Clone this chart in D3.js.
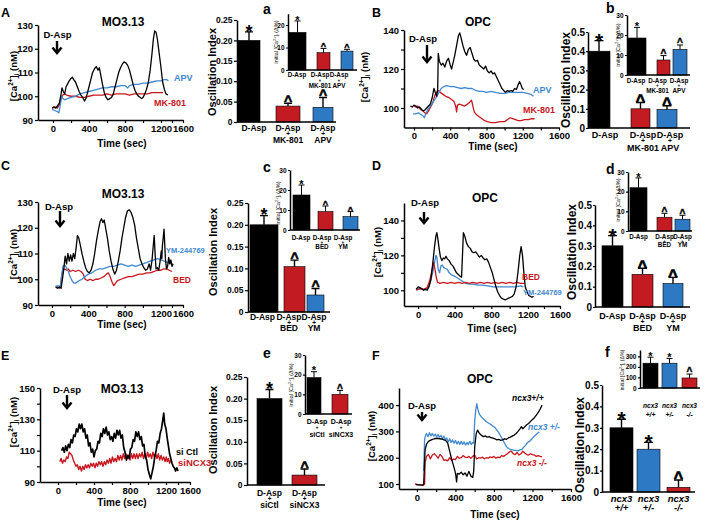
<!DOCTYPE html>
<html><head><meta charset="utf-8">
<script src="https://cdn.jsdelivr.net/npm/d3@7/dist/d3.min.js"></script>
<style>
html,body{margin:0;padding:0;background:#fff;}
svg{display:block;font-family:"Liberation Sans",Arial,Helvetica,sans-serif;font-weight:bold;}
</style></head>
<body><svg id="fig" width="708" height="523"></svg>
<script>
// ================= DATA =================
const timeTicks = [0,200,400,600,800,1000,1200,1400,1600];
const timeLabels = [0,400,800,1200,1600];

// ---- Panel A (MO3.13), [Ca2+]i nM vs time s
const A_DAsp = [[-10,95],[10,95.5],[30,95],[50,96],[70,97],[90,101],[100,103.5],[115,102],[130,101],[145,104],[160,105],[180,106.5],[200,107.5],[215,108],[230,107],[250,106],[270,104],[290,102],[310,100.5],[330,99.5],[350,98],[365,99],[380,101],[400,104],[420,107],[440,110],[460,111.5],[480,112.5],[500,111],[515,112],[530,109],[550,105],[570,101.5],[590,99.5],[610,98.5],[630,99],[650,99.5],[670,101],[690,104],[710,107],[730,110],[750,112],[770,113.5],[790,114.5],[810,114],[830,113],[850,111],[870,108],[890,105],[910,102.5],[930,101],[950,100],[970,99.5],[985,99],[1000,99.5],[1020,101],[1040,103],[1060,106],[1080,111],[1100,118],[1115,124],[1130,127.5],[1145,127],[1160,124],[1180,118],[1200,112],[1230,106],[1260,103],[1290,101],[1327,100.5]];
const A_APV = [[-10,94.5],[20,94],[50,93.5],[65,93],[80,96],[95,100],[110,99],[130,98.5],[160,99],[200,99.5],[250,100],[300,101],[350,101.5],[400,102],[450,102.5],[500,103],[550,103.5],[600,103.5],[650,104],[700,104],[750,104.5],[800,104.5],[830,103.5],[850,104.5],[900,105],[950,105],[1000,105.5],[1050,105.5],[1100,106],[1150,106.5],[1200,106.5],[1250,107],[1300,107],[1335,106.5]];
const A_MK801 = [[-10,95],[20,95.5],[50,95],[70,96.5],[90,99],[110,100.5],[130,101],[150,100.5],[200,100],[250,100],[300,99.5],[350,99.5],[400,100],[450,100.5],[500,100.5],[550,100.5],[600,101],[650,100.5],[700,101],[750,101],[800,101],[850,100.5],[900,101],[950,101],[1000,101],[1050,101],[1100,101.5],[1150,101.5],[1200,101.5],[1236,101.5]];

// ---- Panel B (OPC)
const B_DAsp = [[-40,101],[-20,100.5],[0,101.5],[20,101],[40,100],[60,100.5],[80,99.5],[100,98.5],[120,99],[140,100],[160,101],[180,102],[200,105],[220,110],[235,108],[250,106],[262,110],[268,128],[280,124],[300,122],[320,123],[340,121],[360,124],[380,125.5],[400,122],[415,120],[430,123],[450,127],[470,132],[490,137],[505,138.5],[520,136],[540,132],[560,129],[580,127],[600,130],[620,131],[640,128],[660,125],[680,124],[700,124.5],[720,122],[745,121],[770,120],[790,121.5],[810,119],[830,118],[850,119],[870,117.5],[890,118],[910,116],[930,114],[950,112],[970,110],[990,109],[1010,108],[1030,109],[1050,108.5],[1070,109],[1090,108.5],[1110,110],[1130,109.5],[1150,112],[1165,113.5],[1180,112],[1195,110],[1210,109.5]];
const B_APV = [[-10,97],[20,97],[50,97.5],[80,96.5],[100,96],[115,95],[125,96.5],[150,99],[180,101],[210,103],[240,105],[270,107.5],[300,110],[330,111],[360,111.5],[400,111],[440,111],[480,110.5],[520,110],[560,110.5],[600,110],[640,110],[680,109],[720,108.5],[760,108.5],[800,108],[850,108.5],[900,108],[950,107.5],[1000,107.5],[1050,108],[1100,108],[1150,108],[1200,108],[1250,107.5],[1290,107],[1320,106]];
const B_MK801 = [[0,101],[20,100.5],[40,101],[60,100],[80,99],[100,98.5],[120,97.5],[140,97],[160,98.5],[190,101],[210,103],[230,106.5],[250,108],[270,109],[290,108],[320,107],[350,106],[380,105.5],[410,104.5],[440,103.5],[460,101],[470,98],[480,101.5],[500,102],[530,101.5],[560,101],[590,102],[615,103],[635,104],[650,101],[665,98],[690,96.5],[720,95.5],[750,94.5],[780,93.5],[810,93],[850,92.5],[900,92.5],[950,93],[1000,93],[1030,94],[1060,95],[1090,94.5],[1120,94],[1150,93.5],[1180,93.5],[1220,94],[1260,94],[1300,94.5],[1330,94.5]];

// ---- Panel C (MO3.13)
const C_DAsp = [[40,97],[60,96.5],[80,97],[100,96.5],[115,100],[130,104],[145,109],[160,106],[175,110],[190,107],[205,109.5],[220,107],[235,110],[250,108],[265,112],[280,117],[295,116],[310,113.5],[330,110],[350,107],[370,104.5],[390,103],[410,102.5],[430,103.5],[450,106],[470,110],[490,115],[510,119],[530,122.5],[545,123.5],[560,122],[575,123],[590,120],[610,116],[630,111],[650,107],[670,104],[690,102],[710,103.5],[730,107],[750,111],[770,116],[790,120],[810,124],[830,126.5],[850,127],[870,126],[890,124],[910,121],[930,116],[950,112],[970,108],[990,106],[1010,104.5],[1030,103.5],[1050,104],[1070,106],[1085,103.5],[1100,107],[1115,113],[1125,117],[1135,110],[1145,104],[1160,104.5],[1175,103.5],[1190,107],[1205,111],[1215,108],[1225,113],[1240,116],[1255,119.5],[1265,115],[1280,108],[1300,104],[1320,105],[1340,108.5],[1360,106],[1380,107.5],[1400,105],[1420,106]];
const C_YM = [[40,97],[70,97.5],[90,97],[105,101],[120,105],[140,105.5],[160,104.5],[180,103],[200,101],[220,99.5],[240,98.5],[260,98.5],[280,99],[300,99.5],[330,100],[360,101],[400,102],[440,102.5],[480,103.5],[520,104],[560,104],[600,104.5],[640,105],[680,105],[720,105.5],[760,106],[800,105.5],[840,105],[880,105.5],[920,105],[960,105.5],[1000,106],[1040,106.5],[1080,107],[1120,107.5],[1160,108],[1200,107.5],[1260,107],[1320,106.5],[1380,106],[1420,105.5]];
const C_BED = [[40,97.5],[60,97],[80,96.5],[95,97],[105,101],[120,103.5],[140,104],[160,103.5],[180,104],[200,103],[230,103.5],[260,103],[290,103.5],[320,103],[345,102],[365,100],[390,99.5],[420,100],[450,99.5],[480,100],[510,100],[540,100.5],[570,101],[600,102],[620,102.5],[640,101],[660,99],[680,97.5],[700,98.5],[720,99.5],[760,100],[800,100.5],[840,101],[880,101],[920,101.5],[960,102],[1000,102],[1040,102.5],[1080,102.5],[1120,103],[1160,103.5],[1200,103.5],[1250,104],[1300,104],[1350,103.5],[1400,103]];

// ---- Panel D (OPC)
const D_DAsp = [[-20,100.5],[0,102],[20,101.5],[40,101],[60,100],[80,100.5],[100,100],[120,102],[140,106],[160,115],[180,125],[195,131],[205,133],[215,130],[230,124],[245,119],[260,117],[275,118.5],[290,118],[305,119.5],[320,118],[340,117],[360,115],[380,114],[400,112],[420,110],[440,109],[460,108],[475,107.5],[485,120],[495,133],[510,131],[530,127],[550,125],[570,124],[590,122],[610,121.5],[630,122],[650,120.5],[670,119],[690,120],[710,118.5],[730,117.5],[750,118],[770,116],[790,113],[810,110],[830,106],[850,102],[870,99],[890,97],[910,95.5],[930,95],[950,94.5],[970,95],[990,95.5],[1010,96],[1030,96.5],[1050,98],[1070,102],[1090,110],[1110,120],[1125,125],[1140,120],[1155,110],[1170,102],[1190,99],[1210,97],[1230,96.5],[1250,96],[1270,96.5]];
const D_YM = [[-20,100.5],[20,101],[60,100.5],[100,101],[130,104],[160,110],[180,116],[195,120],[205,119],[220,112],[235,110],[250,114],[265,114.5],[280,113],[300,112.5],[320,112],[340,110],[360,109],[380,108.5],[400,108],[430,107],[460,106],[490,105],[520,104],[560,103.5],[600,103.5],[650,103],[700,103],[760,102.5],[820,102],[880,102],[940,102],[1000,102],[1060,102],[1120,102.5],[1150,102]];
const D_BED = [[-20,100],[20,101],[60,100.5],[100,101.5],[130,106],[150,111],[170,116],[185,112],[200,107],[215,104.5],[240,104],[280,104.5],[320,104],[360,104.5],[400,104],[440,104.5],[480,104],[520,104.5],[560,104],[600,104.5],[640,104],[680,104.5],[720,104],[760,104.5],[800,104],[840,104.5],[880,104],[920,104.5],[960,104],[1000,104.5],[1040,104],[1080,104.5],[1120,104],[1160,104]];

// ---- Panel E (MO3.13, siRNA)
const E_siCtl = [[40,110],[55,112],[70,109],[85,113],[100,110],[115,114],[130,112],[145,117],[160,115],[175,120],[190,119],[205,124],[220,122],[235,127],[250,124],[265,127],[280,122],[295,124],[310,118],[325,120],[340,113],[355,115],[370,109],[385,111],[400,106],[415,110],[430,111],[445,116],[460,115],[475,121],[490,119],[505,124],[520,121],[535,125],[550,120],[565,122],[580,117],[595,119],[610,116],[625,121],[640,118],[655,123],[670,120],[685,123],[700,118],[715,120],[730,112],[745,109],[760,104],[775,107],[790,105],[805,111],[820,112],[835,117],[850,116],[865,122],[880,119],[895,122],[910,117],[925,119],[940,113],[955,114],[970,106],[985,104],[1000,98],[1015,95],[1030,92],[1045,96],[1060,100],[1075,106],[1090,110],[1105,116],[1120,115],[1135,121],[1150,124],[1165,130],[1175,134],[1185,127],[1200,124],[1220,118],[1240,113],[1260,108],[1280,105],[1300,102],[1320,100],[1340,99],[1360,97],[1380,99],[1400,97]];
const E_siNCX3 = [[20,103],[35,105],[50,102],[65,104],[80,103],[95,106],[110,105],[125,109],[140,108],[155,107],[170,104],[185,102],[200,100],[215,101],[230,98],[245,100],[260,97],[275,100],[290,98],[305,101],[320,99],[335,101],[350,99],[365,102],[380,100],[395,102],[410,99],[425,102],[440,100],[455,103],[470,101],[485,103],[500,100],[515,103],[530,101],[545,104],[560,102],[575,105],[590,102],[605,106],[620,103],[635,105],[650,103],[665,107],[680,104],[695,107],[710,104],[725,108],[740,105],[755,108],[770,105],[785,107],[800,104],[815,108],[830,105],[845,108],[860,105],[875,108],[890,105],[905,108],[920,106],[935,109],[950,105],[965,108],[980,105],[995,109],[1010,106],[1025,108],[1040,105],[1055,109],[1070,106],[1085,108],[1100,105],[1115,108],[1130,104],[1145,107],[1160,104],[1175,106],[1190,103],[1205,106],[1220,103],[1240,105],[1260,102],[1280,104],[1300,103]];

// ---- Panel F (OPC, ncx3 genotypes)
const F_wt = [[-10,98],[20,97],[50,96],[70,98],[85,230],[100,252],[120,262],[150,268],[180,272],[210,274],[240,272],[270,270],[300,265],[320,255],[340,225],[360,195],[380,170],[395,150],[405,130],[412,108],[420,140],[440,138],[460,145],[480,135],[500,142],[520,130],[540,148],[560,130],[580,125],[590,150],[600,240],[615,290],[630,305],[650,292],[670,285],[690,280],[710,283],[730,278],[750,280],[770,276],[790,274],[810,272],[830,268],[850,270],[870,266],[890,268],[910,272],[930,270],[950,275],[970,278],[990,282],[1010,286],[1030,292],[1050,300],[1070,310],[1085,318],[1100,310],[1120,318],[1140,325],[1160,330],[1180,338],[1200,345],[1220,352],[1240,362],[1260,372],[1280,385],[1300,400]];
const F_het = [[70,150],[80,270],[90,285],[100,292],[115,280],[130,295],[145,283],[160,292],[175,282],[190,290],[205,280],[220,288],[235,278],[250,285],[265,272],[280,282],[295,268],[310,275],[325,260],[340,272],[355,258],[370,268],[385,255],[400,265],[415,252],[430,262],[445,250],[460,262],[475,250],[490,260],[505,248],[520,258],[535,250],[550,262],[565,250],[580,258],[590,255],[600,340],[612,385],[622,405],[635,380],[650,365],[670,355],[690,348],[710,340],[730,335],[750,330],[770,326],[790,320],[810,315],[830,305],[850,295],[870,282],[890,270],[910,255],[930,242],[950,235],[970,232],[990,230],[1010,228],[1030,228],[1050,226],[1070,230],[1090,232],[1110,240],[1130,248],[1150,258],[1170,262],[1190,270],[1210,278],[1230,285],[1250,292],[1270,298]];
const F_ko = [[-20,100],[10,98],[40,97],[65,95],[80,100],[85,180],[100,205],[120,212],[140,195],[160,210],[180,215],[200,208],[220,198],[240,212],[260,205],[280,190],[300,192],[320,188],[340,200],[360,190],[380,195],[400,193],[420,205],[440,198],[460,200],[480,208],[500,202],[520,200],[540,205],[560,198],[580,205],[600,210],[620,195],[640,200],[660,198],[680,202],[700,196],[720,200],[740,198],[760,203],[780,200],[800,205],[820,198],[840,202],[860,200],[880,208],[900,205],[920,210],[940,215],[960,222],[980,225],[1000,215],[1020,212],[1040,220],[1060,210],[1080,215],[1100,225],[1120,218],[1140,212],[1160,210],[1180,215],[1200,212],[1220,210],[1240,205],[1260,208],[1280,205],[1300,203]];

// ---- Bar charts: oscillation index (main) and initial [Ca2+]i (inset, Δ%)
const oscTicks25 = [0,0.05,0.10,0.15,0.20,0.25];
const oscTickLabels25 = ["0","0.05","0.10","0.15","0.20","0.25"];
const oscTicks5 = [0,0.1,0.2,0.3,0.4,0.5];
const oscTickLabels5 = ["0","0.1","0.2","0.3","0.4","0.5"];
const initTicks = [0,10,20,30];
const initTicksF = [0,100,200,300];

const catsNMDA = [["D-Asp"],["D-Asp","+","MK-801"],["D-Asp","+","APV"]];
const catsNCX = [["D-Asp"],["D-Asp","+","BED"],["D-Asp","+","YM"]];
const catsSi = [["D-Asp","+","siCtl"],["D-Asp","+","siNCX3"]];
const catsGeno = [["ncx3","+/+"],["ncx3","+/-"],["ncx3","-/-"]];

const oscA = [0.20,0.039,0.036], oscA_err = [0.221,0.046,0.060], oscA_sig = ["*","^","^"];
const initA = [16.7,7.7,8.4], initA_err = [21.8,9.6,9.2], initA_sig = ["*","^","^"];
const oscB = [0.40,0.10,0.097], oscB_err = [0.455,0.133,0.116], oscB_sig = ["*","^","^"];
const initB = [18.5,7.5,12.8], initB_err = [23.8,9.7,15], initB_sig = ["*","^","^"];
const oscC = [0.20,0.104,0.039], oscC_err = [0.221,0.119,0.054], oscC_sig = ["*","^","^"];
const initC = [17.5,9.2,6.7], initC_err = [22.5,12,9.2], initC_sig = ["*","^","^"];
const oscD = [0.30,0.16,0.115], oscD_err = [0.35,0.19,0.145], oscD_sig = ["*","^","^"];
const initD = [22,7,6], initD_err = [27,9,8], initD_sig = ["*","^","^"];
const oscE = [0.20,0.023], oscE_err = [0.221,0.037], oscE_sig = ["*","^"];
const initE = [18.5,10], initE_err = [21.5,12], initE_sig = ["*","^"];
const oscF = [0.30,0.20,0.022], oscF_err = [0.34,0.232,0.056], oscF_sig = ["*","*","^"];
const initF = [235,235,95], initF_err = [292,280,132], initF_sig = ["*","*","^"];

// ================= STYLE =================
const BLACK = "#000", RED = "#c8161d", BLUE = "#4088cf", BAR_RED = "#c21b21", BAR_BLUE = "#2d79c3";
const svg = d3.select("#fig");

function styleAxis(sel, fs) {
  sel.attr("font-family", null).attr("font-size", fs).attr("font-weight", "bold");
  sel.selectAll("path.domain").attr("stroke", "#000").attr("stroke-width", 1.5);
  sel.selectAll(".tick line").attr("stroke", "#000").attr("stroke-width", 1.2);
  sel.selectAll(".tick text").attr("fill", "#000");
}
function text(g, x, y, s, o = {}) {
  return g.append("text").attr("x", x).attr("y", y).attr("text-anchor", o.anchor || "start")
    .attr("font-size", o.size || 10).attr("fill", o.color || "#000")
    .attr("font-style", o.italic ? "italic" : null).attr("font-weight", o.weight || "bold").text(s);
}
function caLabel(g, x, y, size, inset) {
  const t = g.append("text").attr("transform", `translate(${x},${y}) rotate(-90)`)
    .attr("text-anchor", "middle").attr("font-size", size).attr("font-weight", inset ? "normal" : "bold");
  const s = size * 0.68;
  t.append("tspan").text(inset ? "initial [Ca" : "[Ca");
  t.append("tspan").attr("font-size", s).attr("dy", -size * 0.4).text("2+");
  t.append("tspan").attr("dy", size * 0.4).text("]");
  t.append("tspan").attr("font-size", s).attr("dy", size * 0.22).text("i");
  t.append("tspan").attr("dy", -size * 0.22).text(inset ? " (\u0394%)" : " (nM)");
}
function arrow(g, x, y0, y1) {
  g.append("path").attr("d", `M${x},${y0}V${y1 - 1}`).attr("stroke", "#000").attr("stroke-width", 2.4).attr("fill", "none");
  g.append("path").attr("d", `M${x - 4.5},${y1 - 5.5}L${x},${y1}L${x + 4.5},${y1 - 5.5}`)
    .attr("stroke", "#000").attr("stroke-width", 2.4).attr("fill", "none").attr("stroke-linejoin", "miter");
}

function tracePanel(o) {
  const g = svg.append("g");
  const x = d3.scaleLinear().domain(o.xd).range(o.xr);
  const y = d3.scaleLinear().domain(o.yd).range(o.yr);
  const line = d3.line().x(d => x(d[0])).y(d => y(d[1]));
  o.series.forEach(s => g.append("path").datum(s.data).attr("d", line).attr("fill", "none")
    .attr("stroke", s.color).attr("stroke-width", s.w || 1.3).attr("stroke-linejoin", "round"));
  const xa = g.append("g").attr("transform", `translate(0,${o.yr[0]})`)
    .call(d3.axisBottom(x).tickValues(timeTicks).tickSize(3).tickSizeOuter(0).tickPadding(2)
      .tickFormat(d => timeLabels.includes(d) ? String(d) : ""));
  styleAxis(xa, 9.5);
  const ya = g.append("g").attr("transform", `translate(${o.xr[0]},0)`)
    .call(d3.axisLeft(y).tickValues(o.yTicks).tickSize(3).tickSizeOuter(0).tickPadding(2)
      .tickFormat(d => o.yLabels.includes(d) ? String(d) : ""));
  styleAxis(ya, 9.5);
  text(g, o.title[1], o.title[2], o.title[0], { anchor: "middle", size: 12 });
  text(g, o.xlab[0], o.xlab[1], "Time (sec)", { anchor: "middle", size: 10 });
  caLabel(g, o.ylab[0], o.ylab[1], 9.5);
  text(g, o.dasp[0], o.dasp[1], "D-Asp", { anchor: "middle", size: 9.5 });
  arrow(g, o.arrow[0], o.arrow[1], o.arrow[2]);
  o.legend.forEach(l => text(g, l.x, l.y, l.t, { size: l.size || 9, color: l.c, italic: l.it }));
}

function barPanel(o) {
  const g = svg.append("g");
  const n = o.values.length;
  const y = d3.scaleLinear().domain(o.yd).range(o.yr);
  const cx = d3.scaleOrdinal().domain(d3.range(n)).range(o.centers);
  const lx = d3.scaleOrdinal().domain(d3.range(n)).range(o.labelCenters || o.centers);
  const idx = d3.range(n);
  g.selectAll("rect").data(idx).join("rect")
    .attr("x", i => cx(i) - o.widths[i] / 2).attr("width", i => o.widths[i])
    .attr("y", i => y(o.values[i])).attr("height", i => y(0) - y(o.values[i]))
    .attr("fill", i => o.colors[i]).attr("stroke", "#000").attr("stroke-width", 0.6);
  g.selectAll("path.err").data(idx).join("path").attr("class", "err")
    .attr("d", i => `M${cx(i)},${y(o.values[i])}V${y(o.errs[i])}M${cx(i) - o.cap / 2},${y(o.errs[i])}H${cx(i) + o.cap / 2}`)
    .attr("stroke", "#000").attr("stroke-width", o.errW || 1.4).attr("fill", "none");
  g.selectAll("text.sig").data(idx).join("text").attr("class", "sig")
    .attr("x", i => cx(i)).attr("text-anchor", "middle")
    .attr("font-size", i => o.sig[i] === "*" ? o.starSize : o.caretSize)
    .attr("stroke", i => o.sig[i] === "^" ? "#000" : null)
    .attr("stroke-width", i => o.sig[i] === "^" ? o.caretSize * 0.045 : null)
    .attr("y", i => {
      const fs = o.sig[i] === "*" ? o.starSize : o.caretSize;
      return y(o.errs[i]) - (o.gap || 2) + (o.sig[i] === "*" ? 0.43 : 0.33) * fs;
    })
    .text(i => o.sig[i]);
  const ya = g.append("g").attr("transform", `translate(${o.ax},0)`)
    .call(d3.axisLeft(y).tickValues(o.ticks).tickSize(o.ts || 3).tickSizeOuter(0).tickPadding(o.tp || 1.5)
      .tickFormat((d, k) => o.tickLabels ? o.tickLabels[k] : d));
  styleAxis(ya, o.tfs);
  g.append("path").attr("d", `M${o.ax},${y(0)}H${o.xEnd}`).attr("stroke", "#000").attr("stroke-width", 1.5);
  o.labels.forEach((lines, i) => lines.forEach((s, j) => {
    const row = lines.length === 2 && o.lb.length === 3 ? (j === 0 ? 0 : j + 1) : j;
    text(g, lx(i), o.lb[row], s, { anchor: "middle", size: s === "+" ? o.ls * 0.75 : o.ls, italic: o.italic });
  }));
  if (o.inset) caLabel(g, o.ylab[0], o.ylab[1], o.ylab[2], true);
  else {
    g.append("text").attr("transform", `translate(${o.ylab[0]},${o.ylab[1]}) rotate(-90)`)
      .attr("text-anchor", "middle").attr("font-size", o.ylab[2]).text("Oscillation Index");
  }
}

// ================= PANELS =================
tracePanel({ xd: [-167, 0, 1200, 1600], xr: [38, 53, 161, 183], yd: [90, 130], yr: [120, 25],
  yTicks: [90, 100, 110, 120, 130], yLabels: [90, 100, 110, 120, 130],
  series: [{ data: A_MK801, color: RED }, { data: A_APV, color: BLUE }, { data: A_DAsp, color: BLACK }],
  title: ["MO3.13", 123, 26], xlab: [122, 147], ylab: [17, 76], dasp: [57.5, 38], arrow: [57, 41, 53],
  legend: [{ t: "APV", x: 174, y: 81, c: BLUE }, { t: "MK-801", x: 154, y: 106, c: RED }] });
tracePanel({ xd: [-110, 1600], xr: [404, 559], yd: [90, 140], yr: [127.5, 30],
  yTicks: [100, 110, 120, 130, 140], yLabels: [100, 120, 140],
  series: [{ data: B_MK801, color: RED }, { data: B_APV, color: BLUE }, { data: B_DAsp, color: BLACK }],
  title: ["OPC", 478, 26], xlab: [493, 150], ylab: [368, 77], dasp: [423, 42], arrow: [427, 45, 62],
  legend: [{ t: "APV", x: 533, y: 93, c: BLUE }, { t: "MK-801", x: 523, y: 113, c: RED }] });
tracePanel({ xd: [-167, 0, 1200, 1600], xr: [38, 52, 161, 183], yd: [90, 130], yr: [305, 202],
  yTicks: [90, 100, 110, 120, 130], yLabels: [90, 100, 110, 120, 130],
  series: [{ data: C_BED, color: RED }, { data: C_YM, color: BLUE }, { data: C_DAsp, color: BLACK }],
  title: ["MO3.13", 123, 198], xlab: [122, 328], ylab: [17, 254], dasp: [59, 210], arrow: [60, 211, 226],
  legend: [{ t: "YM-244769", x: 166, y: 252.5, c: BLUE, size: 7.5 }, { t: "BED", x: 173, y: 283, c: RED, size: 8.5 }] });
tracePanel({ xd: [-153, 1200, 1600], xr: [404, 528, 560], yd: [91, 150], yr: [306, 203],
  yTicks: [100, 110, 120, 130, 140], yLabels: [100, 120, 140],
  series: [{ data: D_YM, color: BLUE }, { data: D_BED, color: RED }, { data: D_DAsp, color: BLACK }],
  title: ["OPC", 485, 202], xlab: [492, 332], ylab: [381, 252], dasp: [425, 206], arrow: [424, 212, 223],
  legend: [{ t: "BED", x: 522, y: 280, c: RED, size: 8.5 }, { t: "YM-244769", x: 523, y: 295, c: BLUE, size: 7.5 }] });
tracePanel({ xd: [-200, 0, 1200, 1600], xr: [40, 58, 166, 190], yd: [90, 150], yr: [482, 388],
  yTicks: [90, 100, 110, 120, 130, 140, 150], yLabels: [90, 110, 130, 150],
  series: [{ data: E_siNCX3, color: RED, w: 1.4 }, { data: E_siCtl, color: BLACK, w: 1.7 }],
  title: ["MO3.13", 122, 393], xlab: [122, 506], ylab: [17, 422], dasp: [67, 393], arrow: [67, 395, 408],
  legend: [{ t: "si Ctl", x: 176, y: 455, c: BLACK, size: 9 }, { t: "siNCX3", x: 178, y: 466, c: RED, size: 9.5 }] });
tracePanel({ xd: [-186, 1600], xr: [399, 571], yd: [81, 465], yr: [489, 388],
  yTicks: [100, 200, 300, 400], yLabels: [100, 200, 300, 400],
  series: [{ data: F_ko, color: RED }, { data: F_het, color: BLUE }, { data: F_wt, color: BLACK }],
  title: ["OPC", 480, 383], xlab: [495, 518], ylab: [375, 436], dasp: [422, 409], arrow: [422, 412, 420],
  legend: [{ t: "ncx3+/+", x: 512, y: 401, c: BLACK, it: true, size: 8.5 }, { t: "ncx3 +/-", x: 528, y: 430, c: BLUE, it: true, size: 8.5 },
           { t: "ncx3 -/-", x: 517, y: 466, c: RED, it: true, size: 8.5 }] });

const cols3 = [BLACK, BAR_RED, BAR_BLUE];
barPanel({ yd: [0, 0.25], yr: [122, 20], ax: 237, xEnd: 336, ticks: oscTicks25, tickLabels: oscTickLabels25, tfs: 8.5,
  centers: [249, 288, 323], widths: [22, 24, 20], labelCenters: [254, 288, 323],
  values: oscA, errs: oscA_err, sig: oscA_sig, colors: cols3, cap: 8, starSize: 18, caretSize: 14,
  labels: catsNMDA, lb: [130.5, 135.5, 142.5], ls: 8.5, ylab: [216, 72, 11] });
barPanel({ yd: [0, 25], yr: [70, 13.75], ax: 288, xEnd: 357, ticks: [0, 10, 20], tfs: 6.5, inset: true, ts: 2,
  centers: [297.5, 323.5, 347], widths: [17, 13, 12], labelCenters: [297, 320, 339],
  values: initA, errs: initA_err, sig: initA_sig, colors: cols3, cap: 6, starSize: 11, caretSize: 9, errW: 1,
  labels: catsNMDA, lb: [77, 81.5, 88], ls: 6.3, ylab: [278, 42, 5.5] });
barPanel({ yd: [0, 0.5], yr: [128, 32], ax: 588, xEnd: 690, ticks: oscTicks5, tickLabels: oscTickLabels5, tfs: 10, ts: 2, tp: 1,
  centers: [599, 640.5, 667], widths: [22, 19, 20], labelCenters: [605, 643, 670],
  values: oscB, errs: oscB_err, sig: oscB_sig, colors: cols3, cap: 9, starSize: 21, caretSize: 16,
  labels: catsNMDA, lb: [137.5, 143, 151], ls: 9, ylab: [570, 80, 12] });
barPanel({ yd: [0, 30], yr: [75, 15], ax: 627, xEnd: 690, ticks: initTicks, tfs: 6.5, inset: true, ts: 2,
  centers: [637, 663.5, 680], widths: [18, 13, 14], labelCenters: [636, 657.5, 679],
  values: initB, errs: initB_err, sig: initB_sig, colors: cols3, cap: 6, starSize: 11, caretSize: 10, errW: 1,
  labels: catsNMDA, lb: [82.5, 86.5, 92.5], ls: 6.3, ylab: [620, 45, 5.5] });
barPanel({ yd: [0, 0.25], yr: [312, 203], ax: 248, xEnd: 330, ticks: oscTicks25, tickLabels: oscTickLabels25, tfs: 8.5,
  centers: [264, 294.5, 315.5], widths: [28, 21, 17], labelCenters: [262.5, 289, 314],
  values: oscC, errs: oscC_err, sig: oscC_sig, colors: cols3, cap: 8, starSize: 18, caretSize: 14,
  labels: catsNCX, lb: [319.5, 324.5, 331], ls: 8.5, ylab: [217, 252, 11] });
barPanel({ yd: [0, 30], yr: [230, 170], ax: 290, xEnd: 360, ticks: initTicks, tfs: 6.5, inset: true, ts: 2,
  centers: [301.5, 325.5, 350.5], widths: [17, 15, 15], labelCenters: [301, 322, 343],
  values: initC, errs: initC_err, sig: initC_sig, colors: cols3, cap: 6, starSize: 11, caretSize: 9, errW: 1,
  labels: catsNCX, lb: [239.5, 243.5, 248.5], ls: 6.3, ylab: [280, 203, 5.5] });
barPanel({ yd: [0, 0.5], yr: [307, 205], ax: 595, xEnd: 690, ticks: oscTicks5, tickLabels: oscTickLabels5, tfs: 10, ts: 2, tp: 1,
  centers: [612.5, 642.5, 673], widths: [21, 21, 20],
  values: oscD, errs: oscD_err, sig: oscD_sig, colors: cols3, cap: 9, starSize: 21, caretSize: 16,
  labels: catsNCX, lb: [319, 324, 331], ls: 9, ylab: [576, 252, 12] });
barPanel({ yd: [0, 30], yr: [231, 172], ax: 628, xEnd: 692, ticks: initTicks, tfs: 6.5, inset: true, ts: 2,
  centers: [638.5, 664.5, 682.5], widths: [17, 15, 15],
  values: initD, errs: initD_err, sig: initD_sig, colors: cols3, cap: 6, starSize: 11, caretSize: 10, errW: 1,
  labels: catsNCX, lb: [238.5, 242.5, 247], ls: 6.3, ylab: [620, 200, 5.5] });
barPanel({ yd: [0, 0.25], yr: [485, 377], ax: 247, xEnd: 325, ticks: oscTicks25, tickLabels: oscTickLabels25, tfs: 8.5,
  centers: [269.5, 304.5], widths: [25, 25],
  values: oscE, errs: oscE_err, sig: oscE_sig, colors: [BLACK, BAR_RED], cap: 8, starSize: 18, caretSize: 14,
  labels: catsSi, lb: [495.5, 500.5, 508], ls: 8.5, ylab: [217, 430, 11] });
barPanel({ yd: [0, 30], yr: [414, 355], ax: 305, xEnd: 352, ticks: initTicks, tfs: 6.5, inset: true, ts: 2,
  centers: [314, 340], widths: [14, 16], labelCenters: [317, 341],
  values: initE, errs: initE_err, sig: initE_sig, colors: [BLACK, BAR_RED], cap: 6, starSize: 11, caretSize: 10, errW: 1,
  labels: catsSi, lb: [424, 429, 437], ls: 7, ylab: [293, 385, 5.5] });
barPanel({ yd: [0, 0.5], yr: [492, 385], ax: 602, xEnd: 695, ticks: oscTicks5, tickLabels: oscTickLabels5, tfs: 10, ts: 2, tp: 1,
  centers: [621.5, 648.5, 678.5], widths: [23, 23, 23],
  values: oscF, errs: oscF_err, sig: oscF_sig, colors: [BLACK, BAR_BLUE, BAR_RED], cap: 9, starSize: 21, caretSize: 16,
  labels: catsGeno, lb: [502, 511], ls: 9.5, italic: true, ylab: [584, 445, 12] });
barPanel({ yd: [0, 360], yr: [388, 350], ax: 640, xEnd: 700, ticks: initTicksF, tfs: 6.5, inset: true, ts: 2,
  centers: [650.5, 669.5, 689.5], widths: [15, 15, 15],
  values: initF, errs: initF_err, sig: initF_sig, colors: [BLACK, BAR_BLUE, BAR_RED], cap: 6, starSize: 11, caretSize: 10, errW: 1,
  labels: catsGeno, lb: [408, 417], ls: 6.6, italic: true, ylab: [624, 370, 5.2] });

const letters = [["A", 1, 17, 12.5], ["B", 372, 17, 12.5], ["C", 1, 170, 12.5], ["D", 372, 170, 12.5], ["E", 1, 360, 12.5], ["F", 372, 360, 12.5],
  ["a", 263, 14, 14], ["b", 606, 13, 14], ["c", 263, 172, 14], ["d", 606, 174, 14], ["e", 263, 358, 14], ["f", 605, 357, 14]];
letters.forEach(l => text(svg, l[1], l[2], l[0], { size: l[3] }));
</script>
</body></html>
